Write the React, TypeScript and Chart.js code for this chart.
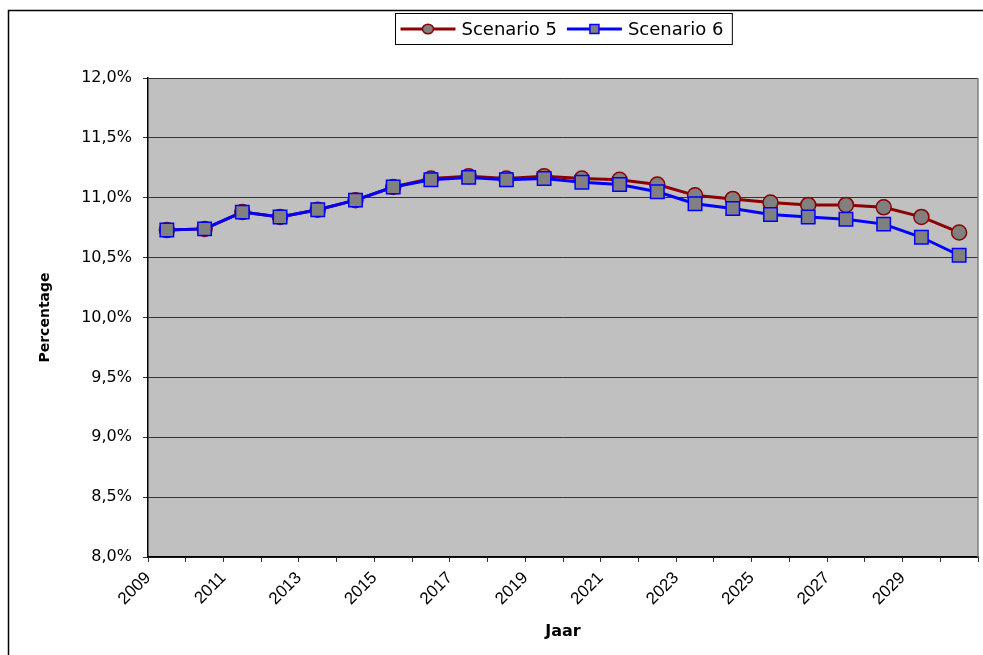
import React, { useEffect, useRef } from 'react';
import { Chart, registerables } from 'chart.js';

Chart.register(...registerables);

// ---- data ----
const years = [2009, 2010, 2011, 2012, 2013, 2014, 2015, 2016, 2017, 2018, 2019, 2020, 2021, 2022, 2023, 2024, 2025, 2026, 2027, 2028, 2029, 2030];
const scenario5 = [10.73, 10.74, 10.88, 10.84, 10.90, 10.98, 11.09, 11.16, 11.18, 11.16, 11.18, 11.16, 11.15, 11.11, 11.02, 10.99, 10.96, 10.94, 10.94, 10.92, 10.84, 10.71];
const scenario6 = [10.73, 10.74, 10.88, 10.84, 10.90, 10.98, 11.09, 11.15, 11.17, 11.15, 11.16, 11.13, 11.11, 11.05, 10.95, 10.91, 10.86, 10.84, 10.82, 10.78, 10.67, 10.52];
const seriesNames = ['Scenario 5', 'Scenario 6'];
const yMin = 8;
const yMax = 12;
const yStep = 0.5;
const xTitle = 'Jaar';
const yTitle = 'Percentage';

const Y_TICK_FONT = { family: '"DejaVu Sans"', size: 16 };
const X_TICK_FONT = { family: '"Liberation Sans", Arial', size: 17 };
const Y_TITLE_FONT = { family: '"DejaVu Sans"', size: 14, weight: 'bold' as const };
const X_TITLE_FONT = { family: '"DejaVu Sans"', size: 16, weight: 'bold' as const };

const W = 983;
const H = 655;
const RIGHT_PAD = 5;

const bgPlugin = {
  id: 'bgPlugin',
  beforeDraw(chart: any) {
    const { ctx, chartArea: ca, width, height } = chart;
    ctx.save();
    ctx.fillStyle = '#ffffff';
    ctx.fillRect(0, 0, width, height);
    ctx.strokeStyle = '#000000';
    ctx.lineWidth = 1.5;
    ctx.strokeRect(8.5, 10.5, width + 20, height + 20);
    ctx.fillStyle = '#C0C0C0';
    ctx.fillRect(ca.left, ca.top, ca.right - ca.left, ca.bottom - ca.top);
    ctx.restore();
  },
  beforeDatasetsDraw(chart: any) {
    const { ctx, chartArea: ca } = chart;
    ctx.save();
    ctx.strokeStyle = '#808080';
    ctx.lineWidth = 1.5;
    ctx.beginPath();
    ctx.moveTo(ca.right, ca.top);
    ctx.lineTo(ca.right, ca.bottom);
    ctx.stroke();
    ctx.restore();
  },
};

const legendPlugin = {
  id: 'customLegend',
  afterDraw(chart: any) {
    const { ctx, chartArea: ca } = chart;
    const datasets = chart.data.datasets;
    ctx.save();
    ctx.font = '18px "DejaVu Sans"';
    const sampleW = 55;
    const gapText = 6;
    const itemGap = 10;
    const padL = 5;
    const padR = 9;
    const widths = datasets.map((d: any) => ctx.measureText(d.label).width);
    let total = padL + padR + itemGap * (datasets.length - 1);
    widths.forEach((w: number) => { total += sampleW + gapText + w; });
    const boxX = Math.round((ca.left + ca.right) / 2 - total / 2) + 0.5;
    const boxY = 13.5;
    const boxH = 31;
    ctx.fillStyle = '#ffffff';
    ctx.fillRect(boxX, boxY, total, boxH);
    ctx.strokeStyle = '#000000';
    ctx.lineWidth = 1;
    ctx.strokeRect(boxX, boxY, total, boxH);
    const cy = boxY + boxH / 2;
    let x = boxX + padL;
    datasets.forEach((d: any, i: number) => {
      ctx.strokeStyle = d.borderColor;
      ctx.lineWidth = 3;
      ctx.beginPath();
      ctx.moveTo(x, cy);
      ctx.lineTo(x + sampleW, cy);
      ctx.stroke();
      const mx = x + sampleW / 2;
      ctx.fillStyle = d.pointBackgroundColor;
      ctx.strokeStyle = d.pointBorderColor;
      ctx.lineWidth = 1.5;
      if (d.pointStyle === 'circle') {
        ctx.beginPath();
        ctx.ellipse(mx, cy, 5.5, 4.8, 0, 0, Math.PI * 2);
        ctx.fill();
        ctx.stroke();
      } else {
        ctx.fillRect(mx - 4.5, cy - 4.5, 9, 9);
        ctx.strokeRect(mx - 4.5, cy - 4.5, 9, 9);
      }
      ctx.fillStyle = '#000000';
      ctx.textBaseline = 'middle';
      ctx.textAlign = 'left';
      ctx.fillText(d.label, x + sampleW + gapText, cy + 1);
      x += sampleW + gapText + widths[i] + itemGap;
    });
    ctx.restore();
  },
};

export default function App() {
  const canvasRef = useRef<HTMLCanvasElement | null>(null);

  useEffect(() => {
    const canvas = canvasRef.current;
    if (!canvas) return;
    const toPts = (vals: number[]) => vals.map((v, i) => ({ x: years[i] + 0.5, y: v }));
    const chart = new Chart(canvas, {
      type: 'line',
      data: {
        datasets: [
          {
            label: seriesNames[0],
            data: toPts(scenario5),
            borderColor: '#8B0000',
            borderWidth: 3,
            pointStyle: 'circle',
            pointRadius: 7.5,
            pointBackgroundColor: '#808080',
            pointBorderColor: '#8B0000',
            pointBorderWidth: 1.5,
            tension: 0,
            order: 2,
          },
          {
            label: seriesNames[1],
            data: toPts(scenario6),
            borderColor: '#0000FF',
            borderWidth: 3,
            pointStyle: 'rect',
            pointRadius: 9.5,
            pointBackgroundColor: '#808080',
            pointBorderColor: '#0000FF',
            pointBorderWidth: 1.5,
            tension: 0,
            order: 1,
          },
        ] as any,
      },
      options: {
        animation: false,
        responsive: false,
        maintainAspectRatio: false,
        layout: { autoPadding: false, padding: { top: 78, left: 0, right: RIGHT_PAD, bottom: 0 } },
        plugins: {
          legend: { display: false },
          tooltip: { enabled: false },
        },
        scales: {
          x: {
            type: 'linear',
            min: years[0],
            max: years[years.length - 1] + 1,
            afterFit: (scale: any) => {
              scale.height = 98;
              scale.paddingLeft = 0;
              scale.paddingRight = 0;
            },
            afterBuildTicks: (scale: any) => {
              const t = [];
              for (let i = 0; i <= years.length; i++) t.push({ value: years[0] + i });
              scale.ticks = t;
            },
            ticks: {
              autoSkip: false,
              minRotation: 45,
              maxRotation: 45,
              padding: 6,
              color: '#000000',
              font: X_TICK_FONT,
              callback: (v: any) => {
                const idx = Number(v) - years[0];
                return idx % 2 === 0 && idx < years.length ? String(v) : '';
              },
            },
            grid: {
              drawOnChartArea: false,
              drawTicks: true,
              tickLength: 5,
              color: '#333333',
            },
            border: { display: true, color: '#000000', width: 1.5 },
            title: {
              display: true,
              text: xTitle,
              color: '#000000',
              font: X_TITLE_FONT,
              padding: { top: 0, bottom: 14 },
            },
          },
          y: {
            min: yMin,
            max: yMax,
            afterFit: (scale: any) => {
              scale.width = 148;
              scale.paddingTop = 0;
              scale.paddingBottom = 0;
            },
            ticks: {
              stepSize: yStep,
              padding: 11,
              color: '#000000',
              font: Y_TICK_FONT,
              callback: (v: any) => Number(v).toFixed(1).replace('.', ',') + '%',
            },
            grid: {
              color: '#333333',
              lineWidth: 1,
              tickLength: 5,
            },
            border: { display: true, color: '#000000', width: 1.5 },
            title: {
              display: true,
              text: yTitle,
              color: '#000000',
              font: Y_TITLE_FONT,
              padding: { top: 37, bottom: 0 },
            },
          },
        },
      } as any,
      plugins: [bgPlugin, legendPlugin],
    });
    return () => chart.destroy();
  }, []);

  return (
    <div style={{ position: 'fixed', left: 0, top: 0, width: W, height: H, overflow: 'hidden' }}>
      <canvas ref={canvasRef} width={W} height={H} style={{ display: 'block' }} />
    </div>
  );
}
